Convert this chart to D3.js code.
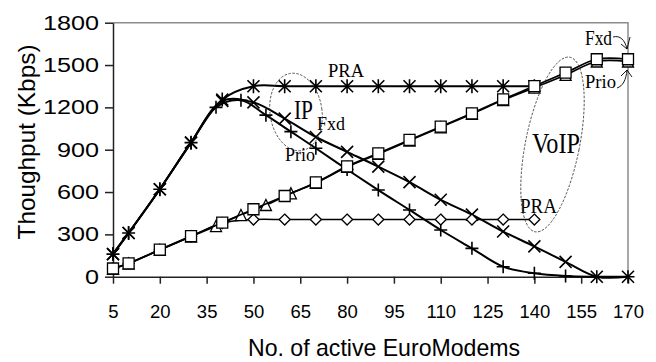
<!DOCTYPE html>
<html>
<head>
<meta charset="utf-8">
<script src="https://cdn.jsdelivr.net/npm/d3@7"></script>
<style>
  body { margin: 0; background: #fff; }
  svg { display: block; }
</style>
</head>
<body>
<script>
// x values: number of active EuroModems
const xStd  = [5, 10, 20, 30, 40, 50, 60, 70, 80, 90, 100, 110, 120, 130, 140, 150, 160, 170];
const xPrio = [5, 10, 20, 30, 38, 46, 54, 62, 70, 80, 90, 100, 110, 120, 130, 140, 150, 160, 170];
const xPra  = [5, 10, 20, 30, 40, 50, 60, 70, 80, 90, 100, 110, 120, 130, 140];

// throughput (Kbps)
const ipPra    = [160, 310, 620, 950, 1255, 1350, 1350, 1350, 1350, 1350, 1350, 1350, 1350, 1350, 1350];
const ipFxd    = [160, 310, 620, 950, 1245, 1235, 1120, 990, 885, 780, 670, 545, 440, 320, 215, 105, 0, 0];
const ipPrio   = [160, 310, 620, 950, 1200, 1250, 1145, 1028, 910, 760, 614, 473, 331, 201, 71, 24, 5, 0, 0];
const voipPra  = [58, 95, 190, 285, 380, 405, 405, 405, 405, 405, 405, 405, 405, 405, 405];
const voipFxd  = [58, 95, 192, 288, 383, 478, 572, 668, 782, 874, 969, 1063, 1158, 1257, 1351, 1446, 1541, 1541];
const voipPrio = [55, 93, 190, 285, 359, 437, 508, 591, 665, 778, 870, 965, 1059, 1154, 1252, 1340, 1430, 1525, 1525];

const xTicks = d3.range(5, 171, 15);
const yTicks = d3.range(0, 1801, 300);

const WIDTH = 656, HEIGHT = 362;
const LEFT = 113, RIGHT = 628, TOP = 22.7, BOTTOM = 276.7;

const svg = d3.select("body").append("svg")
  .attr("width", WIDTH)
  .attr("height", HEIGHT);

const x = d3.scaleLinear().domain([5, 170]).range([LEFT, RIGHT]);
const y = d3.scaleLinear().domain([0, 1800]).range([BOTTOM, TOP]);

// plot area border (top + right grey)
svg.append("path")
  .attr("d", `M${LEFT},${TOP}H${RIGHT}V${BOTTOM}`)
  .attr("fill", "none")
  .attr("stroke", "#8c8c8c")
  .attr("stroke-width", 1.5);

// y axis
const yAxis = svg.append("g")
  .attr("transform", `translate(${LEFT},0)`)
  .call(d3.axisLeft(y).tickValues(yTicks).tickFormat(d3.format("d"))
    .tickSize(8).tickSizeOuter(0).tickPadding(6));
yAxis.selectAll("text")
  .attr("font-family", "Liberation Sans, Arial, sans-serif")
  .attr("font-size", 20)
  .attr("fill", "#000")
  .attr("textLength", d => String(d).length * 14)
  .attr("lengthAdjust", "spacingAndGlyphs");

// x axis
const xAxis = svg.append("g")
  .attr("transform", `translate(0,${BOTTOM})`)
  .call(d3.axisBottom(x).tickValues(xTicks).tickSize(7).tickSizeOuter(0));
xAxis.selectAll("text")
  .attr("y", 41)
  .attr("dy", null)
  .attr("font-family", "Liberation Sans, Arial, sans-serif")
  .attr("font-size", 18.5)
  .attr("fill", "#000");

svg.selectAll(".domain, .tick line")
  .attr("stroke", "#222")
  .attr("stroke-width", 1.5);

// axis titles
svg.append("text")
  .attr("transform", "translate(35,142) rotate(-90)")
  .attr("text-anchor", "middle")
  .attr("font-family", "Liberation Sans, Arial, sans-serif")
  .attr("font-size", 24)
  .attr("textLength", 195)
  .attr("lengthAdjust", "spacingAndGlyphs")
  .text("Thoughput (Kbps)");

svg.append("text")
  .attr("x", 248)
  .attr("y", 356)
  .attr("font-family", "Liberation Sans, Arial, sans-serif")
  .attr("font-size", 24)
  .attr("textLength", 272)
  .attr("lengthAdjust", "spacingAndGlyphs")
  .text("No. of active EuroModems");

// marker shapes
const shapes = {
  star: s => `M${-s},${-s}L${s},${s}M${-s},${s}L${s},${-s}M0,${-s - 1}L0,${s + 1}`,
  cross: s => `M${-s},${-s}L${s},${s}M${-s},${s}L${s},${-s}`,
  plus: s => `M${-s},0L${s},0M0,${-s}L0,${s}`,
  square: s => `M${-s},${-s}H${s}V${s}H${-s}Z`,
  diamond: s => `M0,${-s}L${s},0L0,${s}L${-s},0Z`,
  triangle: s => `M0,${-s}L${s},${s}H${-s}Z`
};

const series = [
  { xs: xStd,  ys: ipFxd,    shape: "cross",    size: 6,   lw: 2,   mw: 1.6, fill: "none" },
  { xs: xPrio, ys: ipPrio,   shape: "plus",     size: 6.5, lw: 2,   mw: 1.6, fill: "none" },
  { xs: xPra,  ys: ipPra,    shape: "star",     size: 6,   lw: 2,   mw: 1.6, fill: "none" },
  { xs: xPra,  ys: voipPra,  shape: "diamond",  size: 5.5, lw: 1.5, mw: 1.3, fill: "#fff" },
  { xs: xPrio, ys: voipPrio, shape: "triangle", size: 5.5, lw: 1.7, mw: 1.3, fill: "#fff" },
  { xs: xStd,  ys: voipFxd,  shape: "square",   size: 5.5, lw: 1.7, mw: 1.3, fill: "#fff" }
];

const line = d3.line()
  .x(d => x(d[0]))
  .y(d => y(d[1]))
  .curve(d3.curveCatmullRom.alpha(0.5));

series.forEach(s => {
  const pts = s.xs.map((v, i) => [v, s.ys[i]]);
  svg.append("path")
    .datum(pts)
    .attr("d", line)
    .attr("fill", "none")
    .attr("stroke", "#000")
    .attr("stroke-width", s.lw);
  svg.append("g").selectAll("path")
    .data(pts)
    .enter()
    .append("path")
    .attr("transform", d => `translate(${x(d[0])},${y(d[1])})`)
    .attr("d", shapes[s.shape](s.size))
    .attr("fill", s.fill)
    .attr("stroke", "#000")
    .attr("stroke-width", s.mw);
});

// annotations
const serif = "Liberation Serif, Times New Roman, serif";
const notes = [
  { t: "PRA",  x: 328, y: 77,  fs: 18, w: 36 },
  { t: "IP",   x: 294, y: 119, fs: 27, w: 19 },
  { t: "Fxd",  x: 317, y: 130, fs: 19, w: 28 },
  { t: "Prio", x: 285, y: 161, fs: 19, w: 30 },
  { t: "VoIP", x: 532, y: 153, fs: 30, w: 48 },
  { t: "PRA",  x: 520, y: 213, fs: 20, w: 37 },
  { t: "Fxd",  x: 585, y: 45,  fs: 20, w: 27 },
  { t: "Prio", x: 585, y: 88,  fs: 19, w: 31 }
];
svg.selectAll("text.note")
  .data(notes)
  .enter()
  .append("text")
  .attr("class", "note")
  .attr("x", d => d.x)
  .attr("y", d => d.y)
  .attr("font-family", serif)
  .attr("font-size", d => d.fs)
  .attr("textLength", d => d.w)
  .attr("lengthAdjust", "spacingAndGlyphs")
  .text(d => d.t);

// dashed ellipses
svg.append("ellipse")
  .attr("cx", 296).attr("cy", 112).attr("rx", 26).attr("ry", 39)
  .attr("transform", "rotate(-8,296,112)")
  .attr("fill", "none").attr("stroke", "#333")
  .attr("stroke-width", 0.8).attr("stroke-dasharray", "2.5,1.5");
svg.append("ellipse")
  .attr("cx", 552.5).attr("cy", 144.5).attr("rx", 27).attr("ry", 89)
  .attr("transform", "rotate(11.3,552.5,144.5)")
  .attr("fill", "none").attr("stroke", "#333")
  .attr("stroke-width", 0.8).attr("stroke-dasharray", "2.5,1.5");

// callout arrows (Fxd / Prio at the right end)
svg.append("path")
  .attr("d", "M613,37 C620,35 625,40 627,49 M630,37 L627,49 M621,44 L627,49")
  .attr("fill", "none").attr("stroke", "#000").attr("stroke-width", 0.9);
svg.append("path")
  .attr("d", "M617,88 C623,86 626,80 627,70 M621,76 L627,70 L632,77")
  .attr("fill", "none").attr("stroke", "#000").attr("stroke-width", 0.9);
</script>
</body>
</html>
